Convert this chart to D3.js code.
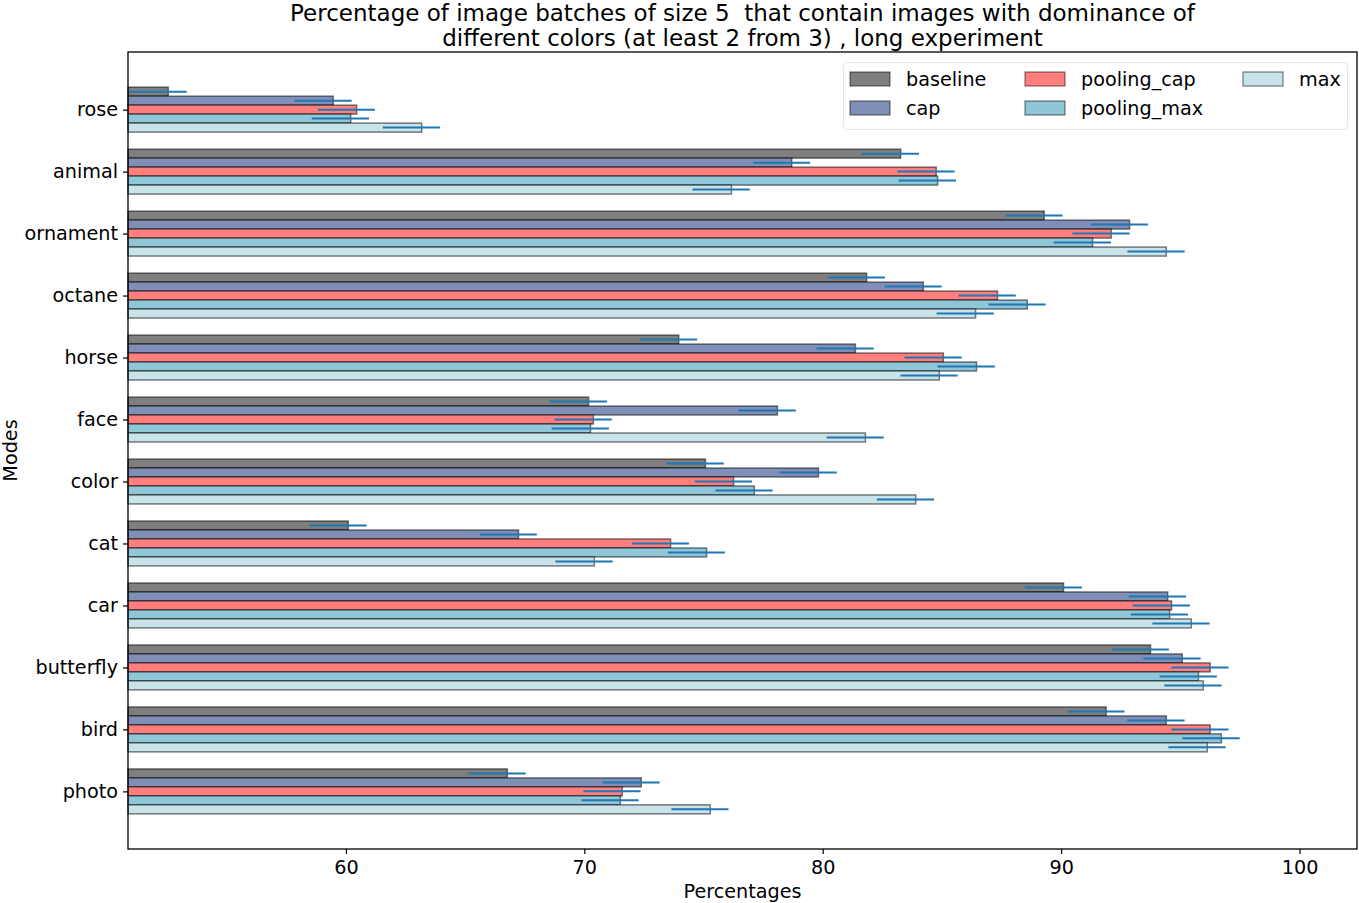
<!DOCTYPE html>
<meta charset="utf-8">
<script src="https://d3js.org/d3.v7.min.js"></script>
<style>
    body { margin: 0; background: #fff; }
    svg text { font-family: "DejaVu Sans", sans-serif; fill: #000; }
</style>
<div id="chart"></div>
<script>
    // categories from bottom (photo) to top (rose)
    var modes = ["photo", "bird", "butterfly", "car", "cat", "color", "face", "horse", "octane", "ornament", "animal", "rose"];

    var seriesNames = ["baseline", "cap", "pooling_cap", "pooling_max", "max"];
    var seriesColors = ["#7f7f7f", "#7f8fb7", "#ff7f7f", "#8fc6d8", "#c8e3ea"];

    var baseline    = [66.77, 91.89, 93.75, 90.10, 60.10, 75.08, 70.18, 73.96, 81.84, 89.29, 83.27, 52.55];
    var cap         = [72.39, 94.41, 95.08, 94.47, 67.24, 79.82, 78.10, 81.37, 84.22, 92.87, 78.70, 59.47];
    var pooling_cap = [71.59, 96.25, 96.25, 94.63, 73.62, 76.26, 70.38, 85.06, 87.33, 92.10, 84.76, 60.45];
    var pooling_max = [71.51, 96.72, 95.76, 94.55, 75.13, 77.13, 70.26, 86.45, 88.58, 91.32, 84.82, 60.20];
    var max         = [75.28, 96.13, 95.96, 95.46, 70.42, 83.90, 81.79, 84.89, 86.41, 94.41, 76.17, 63.18];

    // error half widths (same for every bar in the picture)
    var errors = [1.2, 1.2, 1.2, 1.2, 1.2, 1.2, 1.2, 1.2, 1.2, 1.2, 1.2, 1.2];
    // error lines sit a bit left of the bar end in the original
    var errShift = -0.43;

    var xTicks = [60, 70, 80, 90, 100];

    var allSeries = [baseline, cap, pooling_cap, pooling_max, max];

    var width = 1359;
    var height = 903;
    var margin = { top: 52, right: 2, bottom: 54, left: 128 };
    var barH = 0.145;
    var fs = 19.2;

    var svg = d3.select('#chart')
        .append('svg')
        .attr('width', width)
        .attr('height', height);

    var x = d3.scaleLinear()
        .domain([50.86, 102.41])
        .range([margin.left, width - margin.right]);

    var y = d3.scaleLinear()
        .domain([-0.93, modes.length - 1 + 0.93])
        .range([height - margin.bottom, margin.top]);

    var rows = [];
    modes.forEach((m, i) => {
        allSeries.forEach((s, k) => {
            rows.push({ mode: m, i: i, k: k, value: s[i], err: errors[i] });
        });
    });

    // bar center: baseline on top, max at bottom
    var barCenter = d => d.i + (2 - d.k) * barH;

    var plot = svg.append('g');

    plot.selectAll('rect.bar')
        .data(rows)
        .enter()
        .append('rect')
        .attr('class', 'bar')
        .attr('x', x(x.domain()[0]))
        .attr('y', d => y(barCenter(d) + barH / 2))
        .attr('width', d => x(d.value) - x(x.domain()[0]))
        .attr('height', d => y(barCenter(d) - barH / 2) - y(barCenter(d) + barH / 2))
        .attr('fill', d => seriesColors[d.k])
        .attr('stroke', '#000')
        .attr('stroke-opacity', 0.5)
        .attr('stroke-width', 1.5);

    plot.selectAll('line.err')
        .data(rows)
        .enter()
        .append('line')
        .attr('class', 'err')
        .attr('x1', d => Math.max(x(d.value + errShift - d.err), margin.left))
        .attr('x2', d => x(d.value + errShift + d.err))
        .attr('y1', d => y(barCenter(d)))
        .attr('y2', d => y(barCenter(d)))
        .attr('stroke', '#1f77b4')
        .attr('stroke-width', 2);

    // axes
    var xAxis = svg.append('g')
        .attr('transform', `translate(0,${height - margin.bottom})`)
        .call(d3.axisBottom(x).tickValues(xTicks).tickSize(5).tickPadding(6).tickFormat(d3.format('d')));
    xAxis.select('.domain').remove();
    xAxis.selectAll('text').attr('font-size', fs);
    xAxis.selectAll('line').attr('stroke-width', 1.2);

    var yAxis = svg.append('g')
        .attr('transform', `translate(${margin.left},0)`)
        .call(d3.axisLeft(y).tickValues(d3.range(modes.length)).tickSize(5).tickPadding(5).tickFormat(i => modes[i]));
    yAxis.select('.domain').remove();
    yAxis.selectAll('text').attr('font-size', fs);
    yAxis.selectAll('line').attr('stroke-width', 1.2);

    // frame
    svg.append('rect')
        .attr('x', margin.left)
        .attr('y', margin.top)
        .attr('width', width - margin.right - margin.left)
        .attr('height', height - margin.bottom - margin.top)
        .attr('fill', 'none')
        .attr('stroke', '#000')
        .attr('stroke-width', 1.3);

    // labels
    svg.append('text')
        .attr('x', (margin.left + width - margin.right) / 2)
        .attr('y', 898)
        .attr('text-anchor', 'middle')
        .attr('font-size', fs)
        .text('Percentages');

    svg.append('text')
        .attr('transform', `translate(17,${(margin.top + height - margin.bottom) / 2}) rotate(-90)`)
        .attr('text-anchor', 'middle')
        .attr('font-size', fs)
        .text('Modes');

    var title = svg.append('text')
        .attr('text-anchor', 'middle')
        .attr('font-size', 23)
        .style('white-space', 'pre');
    title.append('tspan')
        .attr('x', (margin.left + width - margin.right) / 2)
        .attr('y', 21)
        .text('Percentage of image batches of size 5  that contain images with dominance of');
    title.append('tspan')
        .attr('x', (margin.left + width - margin.right) / 2)
        .attr('y', 46)
        .text('different colors (at least 2 from 3) , long experiment');

    // legend
    var legend = svg.append('g');
    legend.append('rect')
        .attr('x', 843.5)
        .attr('y', 62.5)
        .attr('width', 504)
        .attr('height', 67)
        .attr('rx', 3)
        .attr('fill', '#fff')
        .attr('fill-opacity', 0.8)
        .attr('stroke', '#e6e6e6');

    var colX = [850, 1025, 1243];
    var rowY = [79, 108];
    seriesNames.forEach((name, k) => {
        var cx = colX[Math.floor(k / 2)];
        var cy = rowY[k % 2];
        legend.append('rect')
            .attr('x', cx)
            .attr('y', cy - 7)
            .attr('width', 40)
            .attr('height', 14)
            .attr('fill', seriesColors[k])
            .attr('stroke', '#000')
            .attr('stroke-opacity', 0.5)
            .attr('stroke-width', 1.2);
        legend.append('text')
            .attr('x', cx + 56)
            .attr('y', cy + 7)
            .attr('font-size', fs)
            .text(name);
    });
</script>
